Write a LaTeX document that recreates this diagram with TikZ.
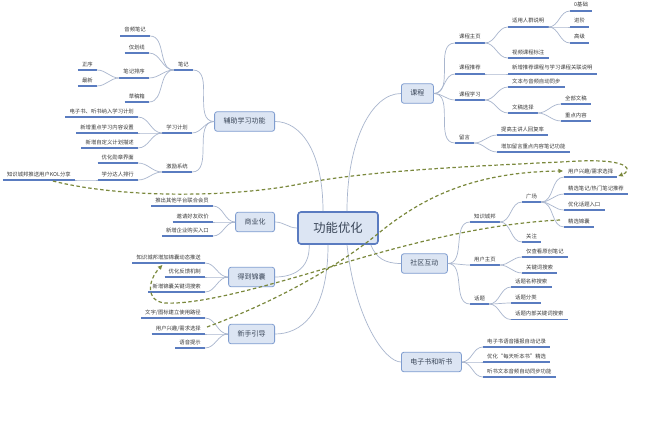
\documentclass[tikz,border=0pt]{standalone}
\usepackage{fontspec}
\newfontfamily\cjk{Noto Sans CJK SC}
\usetikzlibrary{arrows.meta,calc}
\definecolor{txt}{HTML}{3A3A3A}
\definecolor{txtb}{HTML}{3A4658}
\definecolor{ulc}{HTML}{5A7CC0}
\definecolor{conn}{HTML}{A9B6CE}
\definecolor{boxfill}{HTML}{DCE5F3}
\definecolor{boxdraw}{HTML}{7F9DD0}
\definecolor{cdraw}{HTML}{5A7BC0}
\definecolor{dsh}{HTML}{7A883C}
\begin{document}
\begin{tikzpicture}[x=1pt,y=-1pt,
  ul/.style={draw=ulc, line width=1.3pt},
  leaf/.style={font=\cjk\fontsize{5.35}{6}\selectfont, text=txt, inner xsep=4pt, inner ysep=3pt,
    text height=4.5pt, text depth=0.8pt,
    append after command={(\tikzlastnode.south west) edge[ul] (\tikzlastnode.south east)}},
  lL/.style={leaf, anchor=south east},
  lR/.style={leaf, anchor=south west},
  br/.style={draw=boxdraw, fill=boxfill, line width=0.8pt, rounded corners=2.5pt,
    font=\cjk\fontsize{7}{8}\selectfont, text=txtb, inner xsep=9pt, minimum height=19.5pt,
    text height=5.5pt, text depth=1pt},
  ctr/.style={draw=cdraw, fill=boxfill, line width=1.6pt, rounded corners=3pt,
    font=\cjk\fontsize{12.3}{14}\selectfont, text=txtb, minimum width=80pt, minimum height=32pt},
  cn/.style={draw=conn, line width=0.7pt},
  dl/.style={draw=dsh, line width=1.2pt, dash pattern=on 3.5pt off 2.5pt},
  arr/.style={-{Triangle[length=4.5pt,width=4pt]}},
]
\fill[white] (0,0) rectangle (660,420);
\useasboundingbox (0,0) rectangle (660,420);

% central and main branches
\node[ctr] (fz) at (338,228) {功能优化};
\node[br, anchor=east] (b1) at (275,121.5) {辅助学习功能};
\node[br, anchor=east] (b2) at (275,222) {商业化};
\node[br, anchor=east] (b3) at (275,277) {得到锦囊};
\node[br, anchor=east] (b4) at (275,334) {新手引导};
\node[br, anchor=west] (b5) at (401,93.5) {课程};
\node[br, anchor=west] (b6) at (401,263.5) {社区互动};
\node[br, anchor=west] (b7) at (401,362) {电子书和听书};

% 辅助学习功能
\node[lL] (n1) at (193,70) {笔记};
\node[lL] (n11) at (150,36) {音频笔记};
\node[lL] (n12) at (149,53) {仅划线};
\node[lL] (n13) at (149,78) {笔记排序};
\node[lL] (n131) at (97,70) {正序};
\node[lL] (n132) at (97,86) {最新};
\node[lL] (n14) at (149,102) {草稿箱};
\node[lL] (n2) at (192,133) {学习计划};
\node[lL] (n21) at (138,117) {电子书、听书纳入学习计划};
\node[lL] (n22) at (138,133) {新增重点学习内容设置};
\node[lL] (n23) at (138,148) {新增自定义计划描述};
\node[lL] (n3) at (192,172) {激励系统};
\node[lL] (n31) at (138,163) {优化勋章界面};
\node[lL] (n32) at (138,180) {学分达人排行};
\node[lL] (n321) at (75,180) {知识城邦推送用户KOL分享};

% 商业化
\node[lL] (s1) at (213,206) {推出其他平台联合会员};
\node[lL] (s2) at (213,222) {邀请好友砍价};
\node[lL] (s3) at (213,236) {新增企业购买入口};

% 得到锦囊
\node[lL] (d1) at (205,263) {知识城邦增加锦囊动态推送};
\node[lL] (d2) at (205,277) {优化反馈机制};
\node[lL] (d3) at (205,292) {新增锦囊关键词搜索};

% 新手引导
\node[lL] (x1) at (205,318) {文字/图标建立使用路径};
\node[lL] (x2) at (205,334) {用户兴趣/需求选择};
\node[lL] (x3) at (205,348) {语音提示};

% 课程
\node[lR] (k1) at (455,43) {课程主页};
\node[lR] (k11) at (508,27) {适用人群说明};
\node[lR] (k111) at (570,11) {0基础};
\node[lR] (k112) at (570,27) {进阶};
\node[lR] (k113) at (570,43) {高级};
\node[lR] (k12) at (508,58) {视频课程标注};
\node[lR] (k2) at (455,74) {课程推荐};
\node[lR] (k21) at (508,74) {新增推荐课程与学习课程关联说明};
\node[lR] (k3) at (455,100) {课程学习};
\node[lR] (k31) at (508,87) {文本与音频自动同步};
\node[lR] (k32) at (508,113) {文稿选择};
\node[lR] (k321) at (561,104) {全部文稿};
\node[lR] (k322) at (561,121) {重点内容};
\node[lR] (k4) at (455,143) {留言};
\node[lR] (k41) at (497,135) {提高主讲人回复率};
\node[lR] (k42) at (497,152) {增加留言重点内容笔记功能};

% 社区互动
\node[lR] (q1) at (470,222) {知识城邦};
\node[lR] (q11) at (522,202) {广场};
\node[lR] (q111) at (564,177) {用户兴趣/需求选择};
\node[lR] (q112) at (564,194) {精选笔记/热门笔记推荐};
\node[lR] (q113) at (564,210) {优化话题入口};
\node[lR] (q114) at (564,227) {精选锦囊};
\node[lR] (q12) at (522,242) {关注};
\node[lR] (q2) at (470,265) {用户主页};
\node[lR] (q21) at (522,257) {仅查看原创笔记};
\node[lR] (q22) at (522,273) {关键词搜索};
\node[lR] (q3) at (470,304) {话题};
\node[lR] (q31) at (511,287) {话题名称搜索};
\node[lR] (q32) at (511,303) {话题分类};
\node[lR] (q33) at (511,319.5) {话题内部关键词搜索};

% 电子书和听书
\node[lR] (e1) at (483,347) {电子书语音播报自动记录};
\node[lR] (e2) at (483,362) {优化“每天听本书”精选};
\node[lR] (e3) at (483,377) {听书文本音频自动同步功能};

% connectors from the centre
\coordinate (t1) at ($(fz.north)+(-15,0)$);
\coordinate (t2) at ($(fz.north)+(9,0)$);
\coordinate (u1) at ($(fz.south west)+(12,0)$);
\coordinate (u2) at ($(fz.south)+(-10,0)$);
\coordinate (u3) at ($(fz.south)+(9,0)$);
\coordinate (u4) at ($(fz.south east)+(-8,0)$);
\draw[cn] (t1) .. controls (323,150) and (300,121.5) .. (b1.east);
\draw[cn] (t2) .. controls (347,140) and (372,93.5) .. (b5.west);
\draw[cn] (fz.west) to[out=180,in=0] (b2.east);
\draw[cn] (u1) .. controls (310,270) and (292,277) .. (b3.east);
\draw[cn] (u2) .. controls (328,315) and (300,334) .. (b4.east);
\draw[cn] (u3) .. controls (355,320) and (385,362) .. (b7.west);
\draw[cn] (u4) .. controls (376,258) and (385,263.5) .. (b6.west);

% left side
\foreach \c in {n1,n2,n3} \draw[cn] (b1.west) to[out=180,in=0] (\c.south east);
\foreach \c in {s1,s2,s3} \draw[cn] (b2.west) to[out=180,in=0] (\c.south east);
\foreach \c in {d1,d2,d3} \draw[cn] (b3.west) to[out=180,in=0] (\c.south east);
\foreach \c in {x1,x2,x3} \draw[cn] (b4.west) to[out=180,in=0] (\c.south east);
\foreach \p/\c in {n1/n11,n1/n12,n1/n13,n1/n14,n13/n131,n13/n132,n2/n21,n2/n22,n2/n23,n3/n31,n3/n32,n32/n321}
  \draw[cn] (\p.south west) to[out=180,in=0] (\c.south east);

% right side
\foreach \c in {k1,k2,k3,k4} \draw[cn] (b5.east) to[out=0,in=180] (\c.south west);
\foreach \c in {q1,q2,q3} \draw[cn] (b6.east) to[out=0,in=180] (\c.south west);
\foreach \c in {e1,e2,e3} \draw[cn] (b7.east) to[out=0,in=180] (\c.south west);
\foreach \p/\c in {k1/k11,k1/k12,k11/k111,k11/k112,k11/k113,k2/k21,k3/k31,k3/k32,k32/k321,k32/k322,k4/k41,k4/k42,
  q1/q11,q1/q12,q11/q111,q11/q112,q11/q113,q11/q114,q2/q21,q2/q22,q3/q31,q3/q32,q3/q33}
  \draw[cn] (\p.south east) to[out=0,in=180] (\c.south west);

% dashed relations
\coordinate (aS) at ($(n321.south west)+(50,1)$);
\coordinate (aE) at ($(q111.south east)+(1,-1)$);
\draw[dl,arr] (aS) .. controls (120,198) and (230,198) .. (300,184)
  .. controls (370,170) and (480,166) .. (580,161)
  .. controls (632,159) and (632,171) .. (aE);
\coordinate (bS) at ($(x2.south east)+(2,-7)$);
\coordinate (bE) at ($(q111.south west)+(-1,-6)$);
\draw[dl,arr] (bS) .. controls (280,300) and (340,265) .. (380,232)
  .. controls (420,200) and (470,172) .. (bE);
\coordinate (cS) at ($(q114.south west)+(-4,-7)$);
\coordinate (cE) at ($(d1.south west)+(30,2)$);
\draw[dl,arr] (cS) .. controls (480,224) and (400,246) .. (327,268)
  .. controls (270,285) and (200,305) .. (165,303)
  .. controls (145,301) and (148,280) .. (cE);
\end{tikzpicture}
\end{document}
